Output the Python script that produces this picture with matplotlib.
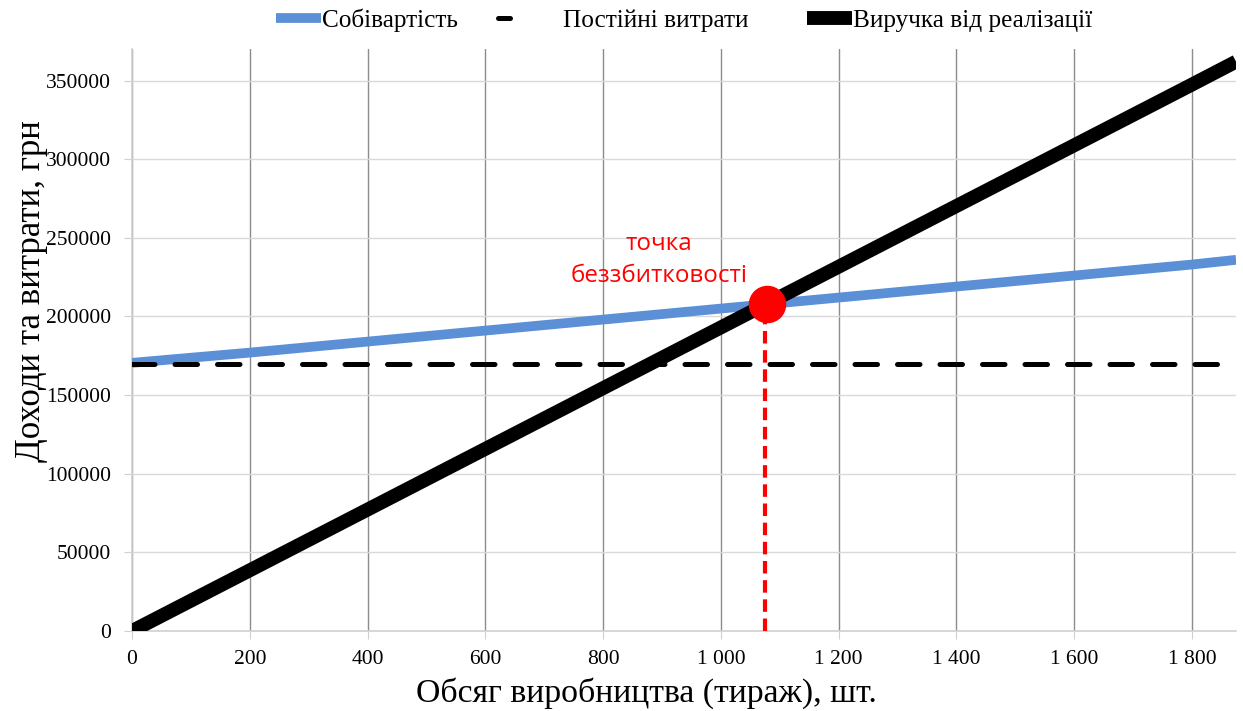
import matplotlib
matplotlib.use("Agg")
import matplotlib.pyplot as plt
from matplotlib.ticker import FuncFormatter, MultipleLocator

# Data
volume = [0, 200, 400, 600, 800, 1000, 1200, 1400, 1600, 1800, 1875]
cost = [170500, 177000, 184000, 191000, 198000, 205000, 212000, 219000, 226000, 233000, 236000]
fixed = [170000, 170000, 170000, 170000, 170000, 170000, 170000, 170000, 170000, 170000, 170000]
revenue = [0, 38600, 77200, 115800, 154400, 193000, 231600, 270200, 308800, 347400, 362000]
be_x = 1075
be_y = 208000
labels = ["Собівартість", "Постійні витрати", "Виручка від реалізації"]

plt.rcParams['font.family'] = ['Liberation Serif', 'DejaVu Serif']

fig = plt.figure(figsize=(12.43, 7.11), dpi=100)
ax = fig.add_axes([0.1062, 0.1125, 0.8882, 0.8185])

ax.plot(volume, cost, color='#5b8fd6', lw=7.0, solid_capstyle='butt', label=labels[0], zorder=3)
ax.plot(volume, fixed, color='black', lw=3.6, linestyle=(0, (4.5, 4.0)), dash_capstyle='round', label=labels[1], zorder=3)
ax.plot(volume, revenue, color='black', lw=10, solid_capstyle='butt', label=labels[2], zorder=4)

ax.plot([be_x, be_x], [0, be_y], color='red', lw=3, linestyle=(0, (3, 1.6)), zorder=5)
ax.plot([be_x + 4], [be_y], 'o', color='red', markersize=26, zorder=6)
ax.text(895, 236000, "точка\nбеззбитковості", color='red', ha='center', va='center',
        fontsize=17.4, family=['Open Sans', 'DejaVu Sans'], linespacing=1.45)

ax.set_xlim(0, 1875)
ax.set_ylim(0, 370000)
ax.xaxis.set_major_locator(MultipleLocator(200))
ax.yaxis.set_major_locator(MultipleLocator(50000))
ax.xaxis.set_major_formatter(FuncFormatter(lambda v, p: f"{int(v):,}".replace(",", " ")))
ax.yaxis.set_major_formatter(FuncFormatter(lambda v, p: f"{int(v)}"))

ax.grid(axis='y', color='#d9d9d9', lw=1)
ax.grid(axis='x', color='#8c8c8c', lw=1)
ax.set_axisbelow(True)
for s in ['top', 'right']:
    ax.spines[s].set_visible(False)
for s in ['left', 'bottom']:
    ax.spines[s].set_color('#d0d0d0')
    ax.spines[s].set_linewidth(1.2)
ax.tick_params(axis='both', colors='#d0d0d0', labelcolor='black', labelsize=15.5, length=6)
ax.tick_params(axis='y', pad=9)
ax.tick_params(axis='x', pad=8)

ax.set_xlabel("Обсяг виробництва (тираж), шт.", fontsize=24.3)
ax.set_ylabel("Доходи та витрати, грн", fontsize=25)
ax.xaxis.set_label_coords(0.4656, -0.0800)
ax.yaxis.set_label_coords(-0.0765, 0.584)

leg = fig.legend(loc='center', bbox_to_anchor=(0.5505, 0.972), ncol=3, frameon=False,
                 fontsize=18.2, handlelength=1.75, handletextpad=0.05, columnspacing=2.35,
                 borderaxespad=0, borderpad=0)
dash_handle = leg.get_lines()[1]
dash_handle.set_linestyle((0, (2.4, 20)))
xd = dash_handle.get_xdata()
dash_handle.set_xdata([xd[0] - 14, xd[-1]])
dash_handle.set_ydata([dash_handle.get_ydata()[0]] * 2)

fig.savefig("out.png", dpi=100)
